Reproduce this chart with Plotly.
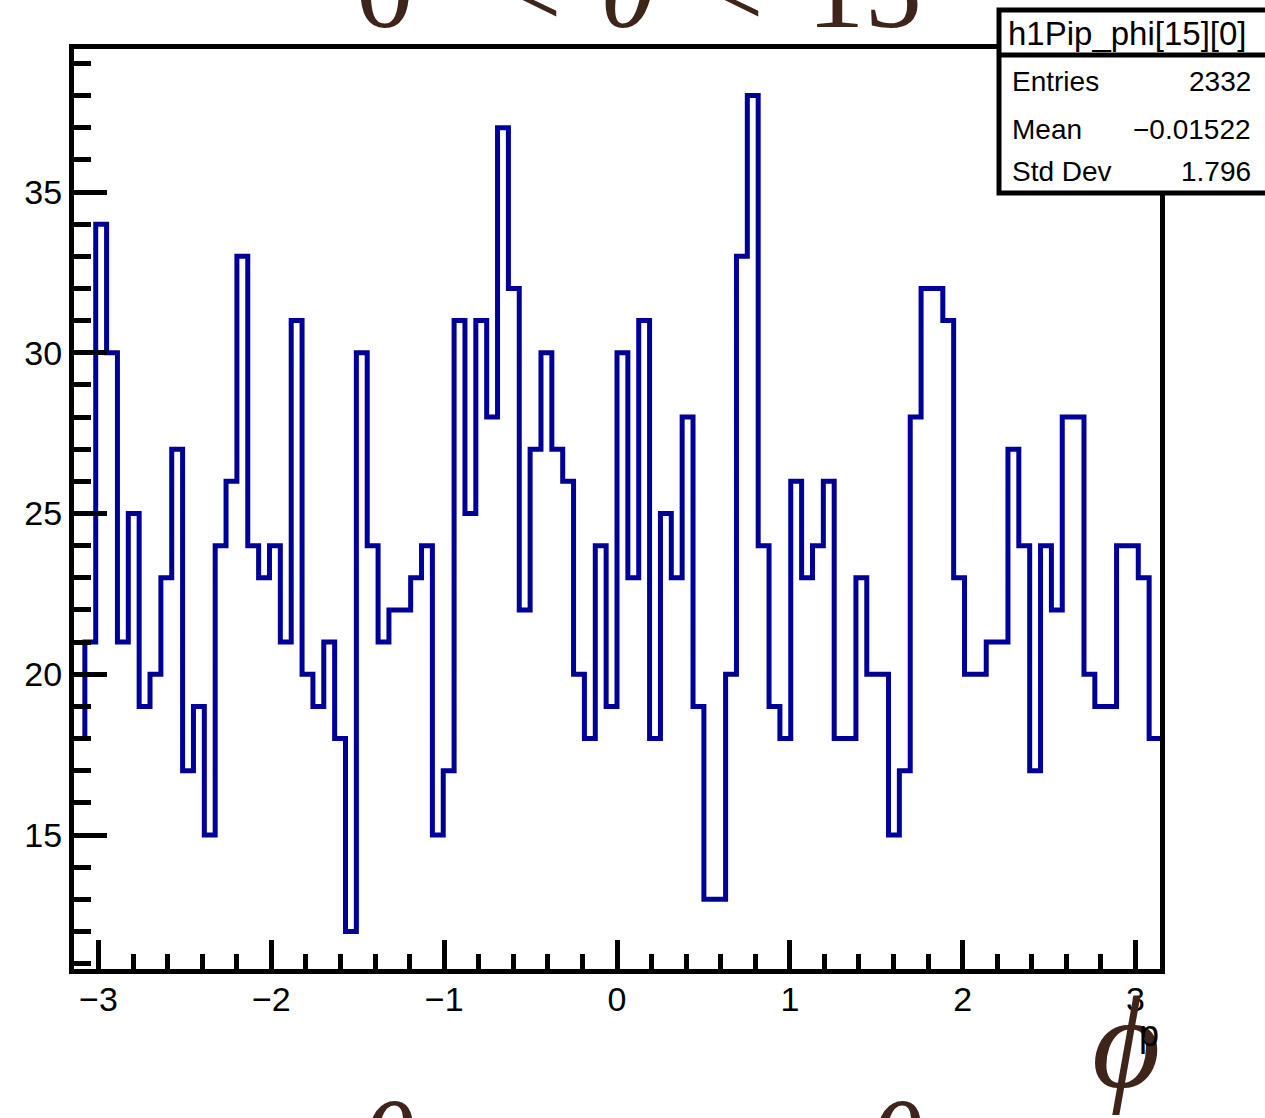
import numpy as np
import plotly.graph_objects as go

# pi+ azimuthal distribution, 100 bins over [-pi, pi]
counts = [18, 21, 34, 30, 21, 25, 19, 20, 23, 27,
          17, 19, 15, 24, 26, 33, 24, 23, 24, 21,
          31, 20, 19, 21, 18, 12, 30, 24, 21, 22,
          22, 23, 24, 15, 17, 31, 25, 31, 28, 37,
          32, 22, 27, 30, 27, 26, 20, 18, 24, 19,
          30, 23, 31, 18, 25, 23, 28, 19, 13, 13,
          20, 33, 38, 24, 19, 18, 26, 23, 24, 26,
          18, 18, 23, 20, 20, 15, 17, 28, 32, 32,
          31, 23, 20, 20, 21, 21, 27, 24, 17, 24,
          22, 28, 28, 20, 19, 19, 24, 24, 23, 18]
n_bins = 100
phi_min, phi_max = -np.pi, np.pi

hist_name = "h1Pip_phi[15][0]"
stats_labels = ["Entries", "Mean", "Std Dev"]
stats_values = ["2332", "\u22120.01522", "1.796"]

# canvas geometry (pixels)
W, H = 1265, 1118
L, R, T, B = 74, 1160, 49, 969


def px(x):
    return (x - L) / (R - L)


def py(y):
    return (B - y) / (B - T)


edges = np.linspace(phi_min, phi_max, n_bins + 1)
step_y = counts + [counts[-1]]

fig = go.Figure()
fig.add_trace(go.Scatter(
    x=edges, y=step_y, mode="lines", line_shape="hv",
    line=dict(color="#000099", width=5), hoverinfo="skip",
))

axis_font = dict(family="Liberation Sans, Arial, sans-serif", size=34, color="black")
fig.update_layout(
    width=W, height=H,
    margin=dict(l=L, r=W - R, t=T, b=H - B, pad=0),
    paper_bgcolor="white", plot_bgcolor="white",
    showlegend=False,
    xaxis=dict(
        range=[phi_min, phi_max], showgrid=False, zeroline=False,
        showline=True, mirror=True, linecolor="black", linewidth=5,
        ticks="inside", ticklen=29, tickwidth=5, tickcolor="black",
        tick0=0, dtick=1, tickfont=axis_font, ticklabelstandoff=-4,
        minor=dict(dtick=0.2, ticks="inside", ticklen=15, tickwidth=5,
                   tickcolor="black", showgrid=False),
    ),
    yaxis=dict(
        range=[10.832, 39.448], showgrid=False, zeroline=False,
        showline=True, mirror=True, linecolor="black", linewidth=5,
        ticks="inside", ticklen=33, tickwidth=5, tickcolor="black",
        tick0=0, dtick=5, tickfont=axis_font, ticklabelstandoff=0,
        minor=dict(dtick=1, ticks="inside", ticklen=17, tickwidth=5,
                   tickcolor="black", showgrid=False),
    ),
)

# statistics box
fig.add_shape(type="rect", xref="paper", yref="paper",
              x0=px(999), x1=px(1300), y0=py(193), y1=py(10),
              line=dict(color="black", width=5), fillcolor="white", layer="above")
fig.add_shape(type="line", xref="paper", yref="paper",
              x0=px(999), x1=px(1300), y0=py(55), y1=py(55),
              line=dict(color="black", width=5), layer="above")

ann = []
sans = "Liberation Sans, Arial, sans-serif"
ann.append(dict(x=px(1006), y=py(33), text=hist_name, xanchor="left", yanchor="middle",
                font=dict(family=sans, size=33, color="black")))
for lab, val, yy in zip(stats_labels, stats_values, [82, 129, 172]):
    ann.append(dict(x=px(1010), y=py(yy), text=lab, xanchor="left", yanchor="middle",
                    font=dict(family=sans, size=28, color="black")))
    ann.append(dict(x=px(1253), y=py(yy), text=val, xanchor="right", yanchor="middle",
                    font=dict(family=sans, size=28, color="black")))

# large serif labels
serif = "Liberation Serif, Times New Roman, DejaVu Serif, serif"
brown = "#3f2419"
title_parts = [("0", 385, False), ("<", 529, False), ("\u03b8", 628, True),
               ("<", 731, False), ("15", 864, False)]
for txt, xc, ital in title_parts:
    ann.append(dict(x=px(xc), y=py(-12), text=txt, xanchor="center", yanchor="middle",
                    font=dict(family=serif, size=115, color=brown,
                              style="italic" if ital else "normal")))
for xc in [387, 895]:
    ann.append(dict(x=px(xc), y=py(1142), text="\u03b8", xanchor="center", yanchor="middle",
                    font=dict(family=serif, size=115, color=brown, style="italic")))

ann.append(dict(x=px(1126), y=py(1042), text="\u03d5", xanchor="center", yanchor="middle",
                font=dict(family=serif, size=132, color=brown, style="italic")))
ann.append(dict(x=px(1149), y=py(1033), text="p", xanchor="center", yanchor="middle",
                font=dict(family=sans, size=36, color="black")))

for a in ann:
    a.update(xref="paper", yref="paper", showarrow=False)
fig.update_layout(annotations=ann)

fig.write_html("out.html")
